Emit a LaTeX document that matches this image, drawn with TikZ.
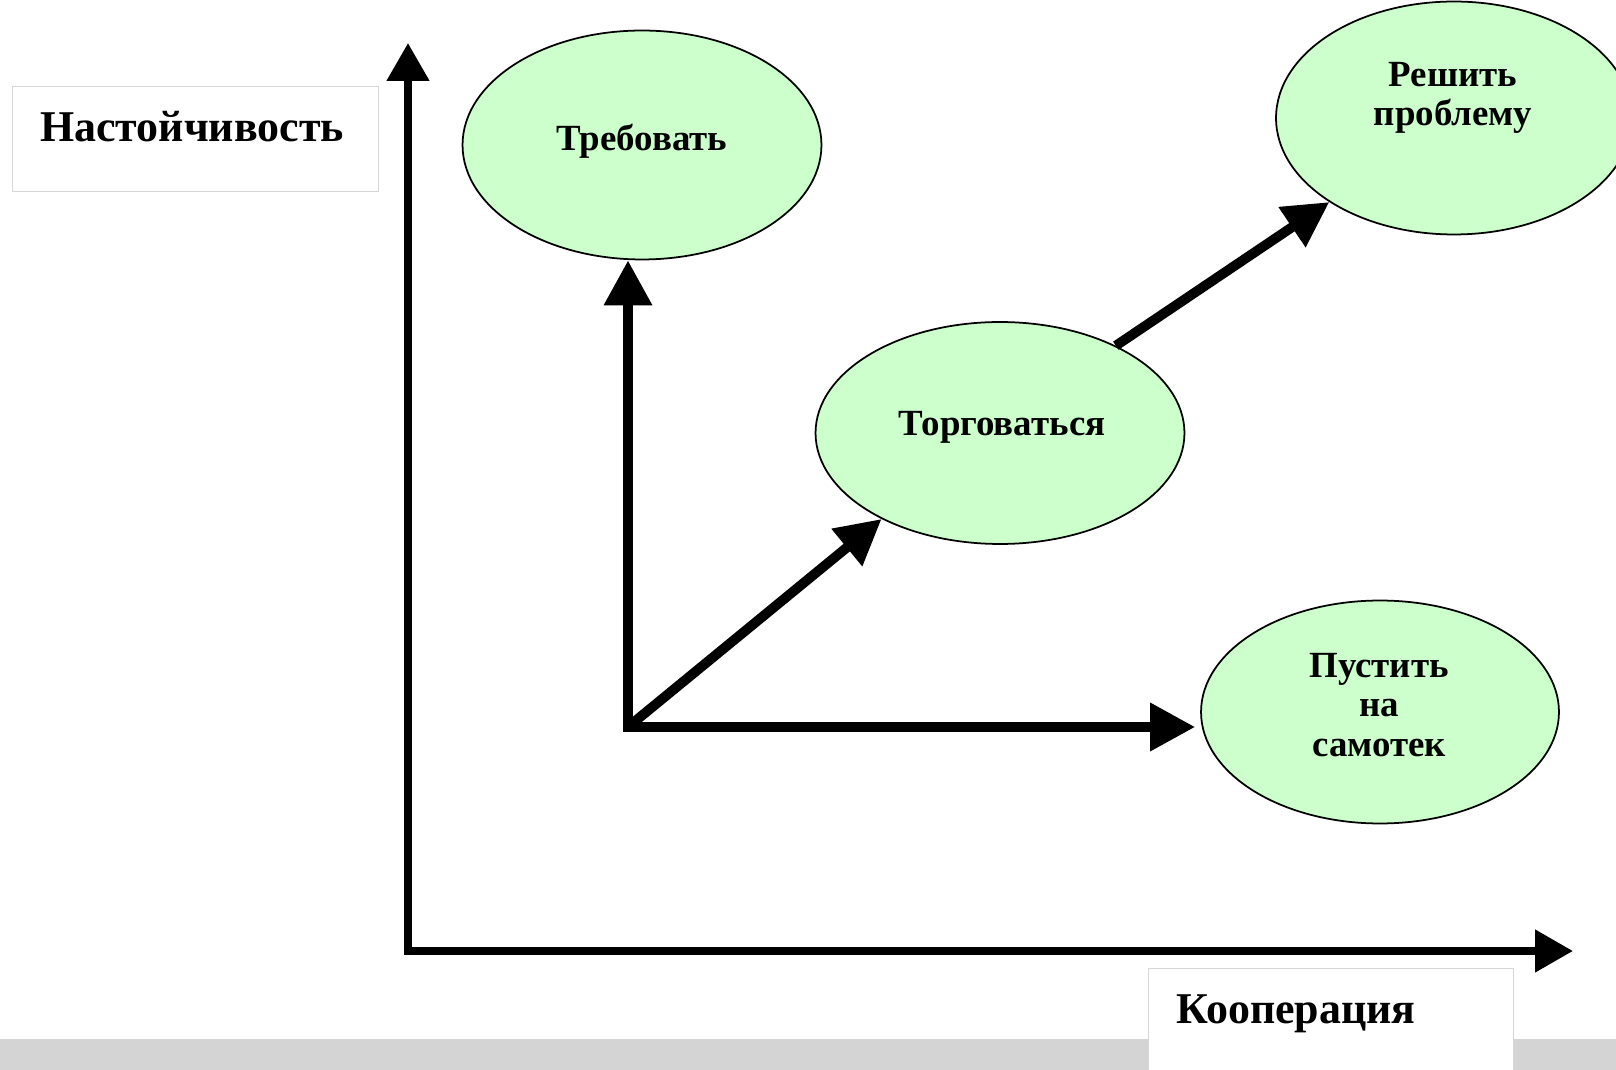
\documentclass[tikz,border=0pt]{standalone}
\usepackage{fontspec}
\setmainfont{Liberation Serif}
\usetikzlibrary{shapes.geometric,arrows.meta}
\definecolor{bubblegreen}{RGB}{204,255,204}
\definecolor{bargray}{RGB}{212,212,212}
\definecolor{boxgray}{RGB}{214,214,214}

\begin{document}
\begin{tikzpicture}[x=0.02cm,y=-0.02cm,
  bubble/.style={ellipse,draw,fill=bubblegreen,line width=1pt,inner sep=0pt},
  caption/.style={font=\bfseries\fontsize{21}{22.5}\selectfont,align=center,inner sep=0pt},
  axislabel/.style={font=\bfseries\fontsize{25}{25}\selectfont,inner sep=0pt},
  axis/.style={line width=4.5pt,line join=miter,>={Triangle[length=0.76cm,width=0.82cm]}},
  push/.style={line width=5.6pt,line join=miter,>={Triangle[length=0.9cm,width=0.92cm]}}]
\useasboundingbox (0,0) rectangle (1616,1070);
\clip (0,0) rectangle (1616,1070);

% grey strip and label boxes
\fill[bargray] (0,1039) rectangle (1616,1070);
\draw[boxgray,fill=white] (12,86) rectangle (378,191);
\draw[boxgray,fill=white] (1148,968) rectangle (1513,1075);
\node[axislabel,anchor=base] (lbl-y) at (192,142) {Настойчивость};
\node[axislabel,anchor=base] (lbl-x) at (1296,1023) {Кооперация};

% axes
\coordinate (org) at (408,951);
\coordinate (ytop) at (408,43);
\coordinate (xend) at (1573,951);
\draw[axis,<->] (ytop) -- (org) -- (xend);

% the four strategies
\node[bubble,minimum width=7.18cm,minimum height=4.58cm] (treb) at (642,145) {};
\node[bubble,minimum width=7.38cm,minimum height=4.44cm] (torg) at (1000,433) {};
\node[bubble,minimum width=7.12cm,minimum height=4.66cm] (reshit) at (1454,118) {};
\node[bubble,minimum width=7.16cm,minimum height=4.46cm] (samotek) at (1380,712) {};

\node[caption,anchor=base] (treb-t) at (642,151) {Требовать};
\node[caption,anchor=base] (torg-t) at (1002,436) {Торговаться};
\node[caption] (reshit-t) at (1453,98) {Решить\\проблему};
\node[caption] (samotek-t) at (1379,705) {Пустить\\на\\самотек};

% arrows
\coordinate (start) at (628,727);
\draw[push,<->] (start |- treb.south) -- (start) -- ([xshift=-0.1cm]start -| samotek.west);
\draw[push,->] (start) -- (torg.216);
\draw[push,->] (torg.37) -- (reshit.214);

\end{tikzpicture}
\end{document}
